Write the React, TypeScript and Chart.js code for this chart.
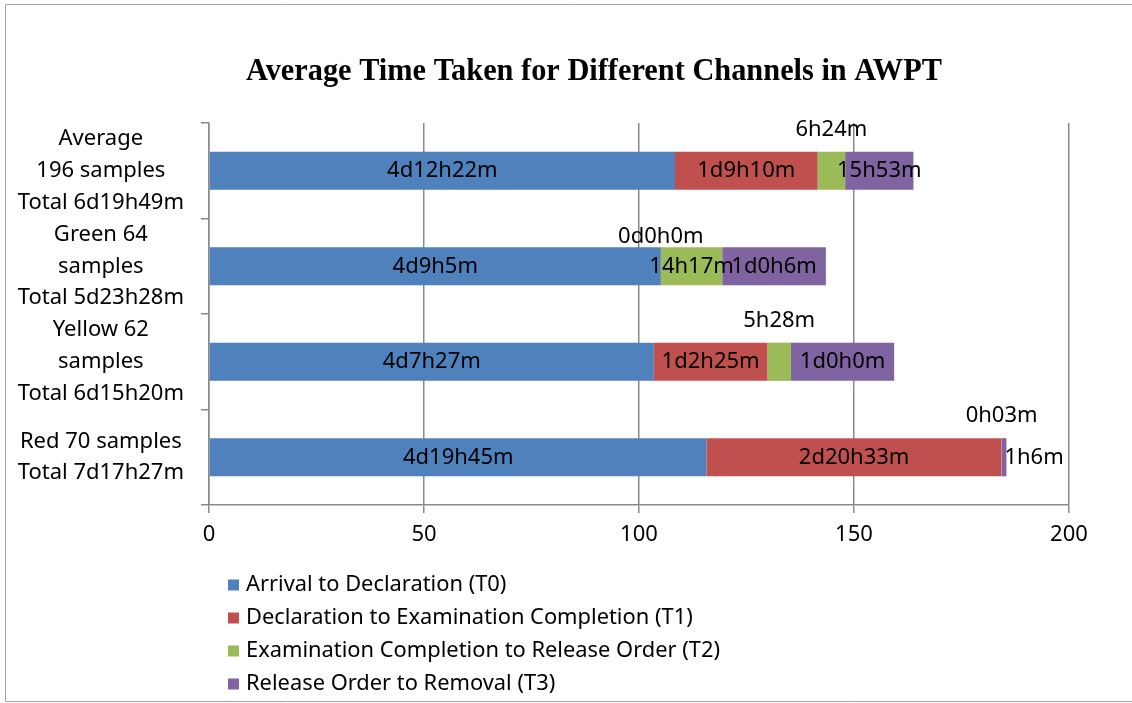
import React, { useEffect, useRef } from "react";
import { Chart, registerables } from "chart.js";

Chart.register(...registerables);

// ---------- data ----------
const CATEGORIES: string[][] = [
  ["Average", "196 samples", "Total 6d19h49m"],
  ["Green 64", "samples", "Total 5d23h28m"],
  ["Yellow 62", "samples", "Total 6d15h20m"],
  ["Red 70 samples", "Total 7d17h27m"],
];

const SERIES_NAMES = [
  "Arrival to Declaration (T0)",
  "Declaration to Examination Completion (T1)",
  "Examination Completion to Release Order (T2)",
  "Release Order to Removal (T3)",
];

// hours
const T0_HOURS = [108.37, 105.08, 103.45, 115.75];
const T1_HOURS = [33.17, 0, 26.42, 68.55];
const T2_HOURS = [6.4, 14.28, 5.47, 0.05];
const T3_HOURS = [15.88, 24.1, 24.0, 1.1];

const T0_LABELS = ["4d12h22m", "4d9h5m", "4d7h27m", "4d19h45m"];
const T1_LABELS = ["1d9h10m", "0d0h0m", "1d2h25m", "2d20h33m"];
const T2_LABELS = ["6h24m", "14h17m", "5h28m", "0h03m"];
const T3_LABELS = ["15h53m", "1d0h6m", "1d0h0m", "1h6m"];

const X_MIN = 0;
const X_MAX = 200;
const X_STEP = 50;

const TITLE = "Average Time Taken for Different Channels in AWPT";

// ---------- styles ----------
const COLORS = ["#4F81BD", "#C0504D", "#9BBB59", "#8064A2"];
const LABEL_PLACEMENT: string[][] = [
  ["in", "in", "in", "in"],
  ["in", "aboveTight", "in", "in"],
  ["above", "in", "above", "above"],
  ["in", "in", "in", "right"],
];
const FONT = "'Noto Sans', 'Open Sans', sans-serif";
const GRID = "#8a8a8a";

export default function App() {
  const ref = useRef<HTMLCanvasElement | null>(null);

  useEffect(() => {
    document.body.style.margin = "0";
    document.body.style.overflow = "hidden";
    const canvas = ref.current;
    if (!canvas) return;

    const values = [T0_HOURS, T1_HOURS, T2_HOURS, T3_HOURS];
    const labels = [T0_LABELS, T1_LABELS, T2_LABELS, T3_LABELS];

    const decorPlugin = {
      id: "decor",
      afterDatasetsDraw(chart: any) {
        const ctx = chart.ctx as CanvasRenderingContext2D;
        ctx.save();
        ctx.fillStyle = "#000";
        ctx.font = `22px ${FONT}`;
        ctx.textBaseline = "middle";
        for (let i = 0; i < values.length; i++) {
          const meta = chart.getDatasetMeta(i);
          meta.data.forEach((el: any, j: number) => {
            const p = el.getProps(["x", "base", "y", "height"], true);
            const cx = (p.x + p.base) / 2;
            const top = p.y - p.height / 2;
            const place = LABEL_PLACEMENT[i][j];
            const txt = labels[i][j];
            if (place === "in") {
              ctx.textAlign = "center";
              ctx.fillText(txt, cx, p.y);
            } else if (place === "above") {
              ctx.textAlign = "center";
              ctx.fillText(txt, cx, top - 22);
            } else if (place === "aboveTight") {
              ctx.textAlign = "center";
              ctx.fillText(txt, cx, top - 10);
            } else if (place === "right") {
              ctx.textAlign = "left";
              ctx.fillText(txt, Math.max(p.x, p.base) - 2, p.y);
            }
          });
        }
        ctx.restore();
      },
      afterDraw(chart: any) {
        const ctx = chart.ctx as CanvasRenderingContext2D;
        const W = chart.width;
        const H = chart.height;
        ctx.save();
        // frame
        ctx.strokeStyle = "#a6a6a6";
        ctx.lineWidth = 1;
        ctx.beginPath();
        ctx.moveTo(W + 5, 4.5);
        ctx.lineTo(5.5, 4.5);
        ctx.lineTo(5.5, H - 1.5);
        ctx.lineTo(W + 5, H - 1.5);
        ctx.stroke();

        // title (condensed bold serif)
        ctx.fillStyle = "#000";
        ctx.font = "bold 31px 'Liberation Serif', 'Times New Roman', serif";
        ctx.textBaseline = "alphabetic";
        ctx.textAlign = "center";
        const tw = ctx.measureText(TITLE).width;
        const targetW = 696;
        const sx = targetW / tw;
        ctx.save();
        ctx.translate(594, 80);
        ctx.scale(sx, 1);
        ctx.fillText(TITLE, 0, 0);
        ctx.restore();

        // legend
        ctx.font = `21px ${FONT}`;
        ctx.textBaseline = "middle";
        ctx.textAlign = "left";
        let widest = 0;
        SERIES_NAMES.forEach((n) => {
          widest = Math.max(widest, ctx.measureText(n).width);
        });
        const lsx = 474 / widest;
        SERIES_NAMES.forEach((name, i) => {
          const y = 585 + i * 33;
          ctx.fillStyle = COLORS[i];
          ctx.fillRect(228, y - 5.5, 11, 11);
          ctx.fillStyle = "#000";
          ctx.save();
          ctx.translate(246, y);
          ctx.scale(lsx, 1);
          ctx.fillText(name, 0, 0);
          ctx.restore();
        });
        ctx.restore();
      },
    };

    const chart = new Chart(canvas, {
      type: "bar",
      data: {
        labels: CATEGORIES,
        datasets: SERIES_NAMES.map((name, i) => ({
          label: name,
          data: values[i],
          backgroundColor: COLORS[i],
          borderWidth: 0,
          barPercentage: 0.4,
          categoryPercentage: 1,
        })),
      },
      options: {
        indexAxis: "y",
        responsive: false,
        animation: false,
        layout: { padding: { left: 0, right: 63, top: 123, bottom: 0 } },
        plugins: {
          legend: { display: false },
          title: { display: false },
          tooltip: { enabled: false },
        },
        scales: {
          x: {
            stacked: true,
            min: X_MIN,
            max: X_MAX,
            ticks: {
              stepSize: X_STEP,
              color: "#000",
              padding: 9,
              font: { family: FONT, size: 22 },
            },
            grid: {
              color: GRID,
              lineWidth: 1.5,
              tickLength: 8,
              drawOnChartArea: true,
              drawTicks: true,
            },
            border: { display: true, color: GRID, width: 1.5 },
            afterFit(scale: any) {
              scale.height = 198;
            },
          },
          y: {
            stacked: true,
            ticks: {
              color: "#000",
              crossAlign: "center",
              padding: 17,
              autoSkip: false,
              font: { family: FONT, size: 22, lineHeight: 1.45 },
            },
            grid: {
              color: GRID,
              lineWidth: 1.5,
              tickLength: 8,
              drawOnChartArea: false,
              drawTicks: true,
              offset: true,
            },
            border: { display: true, color: GRID, width: 1.5 },
            afterFit(scale: any) {
              scale.width = 209;
            },
          },
        },
      } as any,
      plugins: [decorPlugin],
    });

    return () => chart.destroy();
  }, []);

  return (
    <div style={{ position: "absolute", left: 0, top: 0, width: 1132, height: 703, background: "#fff" }}>
      <canvas ref={ref} width={1132} height={703} style={{ display: "block" }} />
    </div>
  );
}
